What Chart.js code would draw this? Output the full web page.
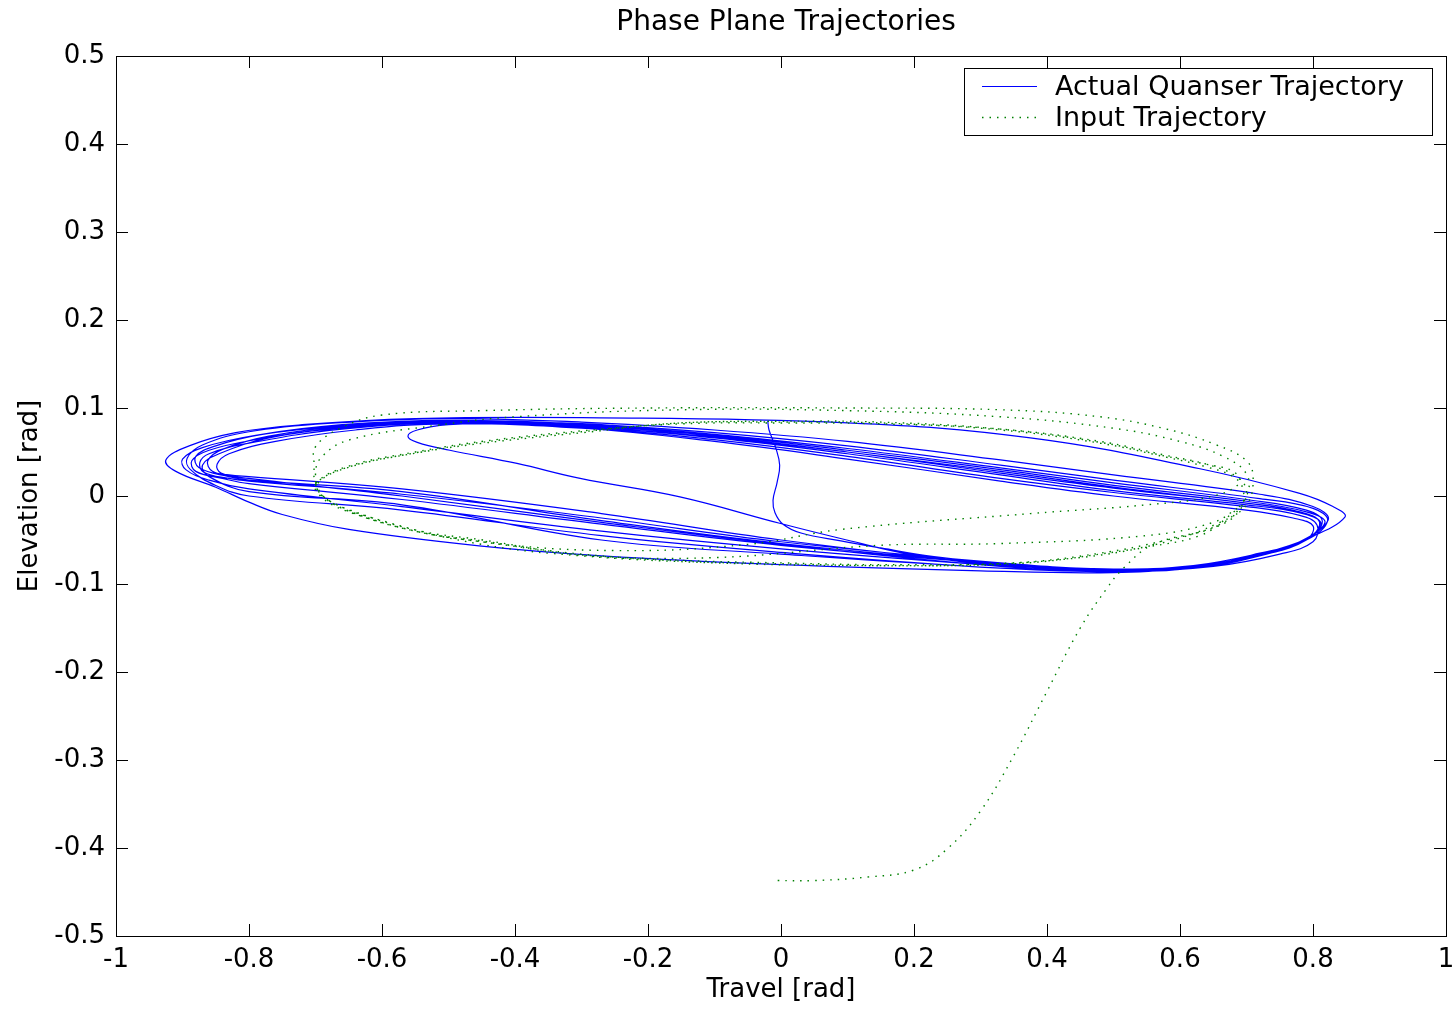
<!DOCTYPE html>
<html>
<head>
<meta charset="utf-8">
<title>Phase Plane Trajectories</title>
<script src="https://cdn.jsdelivr.net/npm/chart.js@4/dist/chart.umd.min.js"></script>
<style>
  html, body { margin: 0; padding: 0; background: #fff; }
  canvas { display: block; }
</style>
</head>
<body>
<canvas id="phase" width="1454" height="1010"></canvas>
<script>
// tick values
const xTicks = [-1, -0.8, -0.6, -0.4, -0.2, 0, 0.2, 0.4, 0.6, 0.8, 1];
const yTicks = [-0.5, -0.4, -0.3, -0.2, -0.1, 0, 0.1, 0.2, 0.3, 0.4, 0.5];

// actual trajectory, [travel, elevation]
const blueStart = [[-0.02,0.086],[-0.018,0.075],[-0.008,0.055],[-0.002,0.035],[-0.006,0.015],[-0.012,-0.005],[-0.009,-0.019],[0.003,-0.032],[0.03,-0.042],[0.09,-0.051],[0.15,-0.059],[0.23,-0.069],[0.35,-0.078],[0.5,-0.083],[0.62,-0.079],[0.72,-0.065],[0.79,-0.05]];
const blueLoop1 = [[0.822,-0.028],[0.8,-0.014],[0.72,-0.003],[0.5,0.018],[0.33,0.035],[0.1,0.057],[-0.1,0.072],[-0.3,0.082],[-0.5,0.086],[-0.66,0.081],[-0.79,0.069],[-0.87,0.055],[-0.9,0.042],[-0.895,0.03],[-0.86,0.018],[-0.8,0.008],[-0.57,-0.012],[-0.27,-0.04],[0.0,-0.06],[0.33,-0.079],[0.5,-0.084],[0.63,-0.08],[0.73,-0.066],[0.79,-0.05]];
const blueLoop2 = [[0.812,-0.031],[0.785,-0.02],[0.7,-0.01],[0.5,0.006],[0.33,0.024],[0.1,0.048],[-0.1,0.066],[-0.3,0.079],[-0.5,0.084],[-0.66,0.078],[-0.79,0.064],[-0.86,0.052],[-0.886,0.04],[-0.88,0.028],[-0.84,0.02],[-0.8,0.014],[-0.57,-0.004],[-0.27,-0.032],[0.0,-0.056],[0.33,-0.077],[0.5,-0.083],[0.63,-0.079],[0.73,-0.064],[0.79,-0.049]];
const blueLoop3 = [[0.848,-0.024],[0.83,-0.012],[0.78,0.003],[0.63,0.031],[0.375,0.066],[0.1,0.083],[-0.3,0.089],[-0.55,0.088],[-0.72,0.081],[-0.82,0.072],[-0.89,0.057],[-0.925,0.041],[-0.91,0.028],[-0.85,0.01],[-0.8,-0.007],[-0.75,-0.021],[-0.65,-0.038],[-0.45,-0.057],[-0.27,-0.068],[0.0,-0.078],[0.3,-0.085],[0.5,-0.087],[0.65,-0.08],[0.75,-0.066],[0.8,-0.052]];
const blueLoop4 = [[0.806,-0.033],[0.78,-0.022],[0.7,-0.012],[0.5,0.004],[0.33,0.02],[0.1,0.045],[-0.1,0.064],[-0.3,0.078],[-0.5,0.083],[-0.66,0.076],[-0.8,0.06],[-0.86,0.048],[-0.874,0.038],[-0.868,0.027],[-0.83,0.02],[-0.8,0.017],[-0.57,0.002],[-0.27,-0.025],[0.0,-0.052],[0.33,-0.076],[0.5,-0.083],[0.63,-0.079],[0.72,-0.066],[0.78,-0.052]];
const blueLoop5 = [[0.818,-0.03],[0.79,-0.018],[0.7,-0.006],[0.5,0.012],[0.33,0.03],[0.1,0.052],[-0.1,0.069],[-0.3,0.08],[-0.5,0.085],[-0.65,0.08],[-0.77,0.068],[-0.84,0.053],[-0.862,0.04],[-0.855,0.028],[-0.83,0.024],[-0.8,0.022],[-0.57,0.008],[-0.27,-0.02],[0.0,-0.05],[0.33,-0.078],[0.5,-0.085],[0.63,-0.08],[0.73,-0.066],[0.79,-0.05]];
const blueLoop6 = [[0.8,-0.034],[0.77,-0.025],[0.7,-0.016],[0.5,0.0],[0.33,0.017],[0.1,0.042],[-0.1,0.062],[-0.3,0.077],[-0.5,0.082],[-0.64,0.075],[-0.76,0.062],[-0.83,0.048],[-0.848,0.036],[-0.842,0.026],[-0.8,0.02],[-0.57,0.0],[-0.27,-0.03],[0.0,-0.055],[0.33,-0.08],[0.5,-0.086],[0.63,-0.081],[0.72,-0.067],[0.78,-0.052]];
const blueLoop7 = [[0.823,-0.027],[0.8,-0.012],[0.72,0.002],[0.5,0.024],[0.33,0.041],[0.1,0.062],[-0.1,0.075],[-0.3,0.084],[-0.5,0.088],[-0.67,0.083],[-0.8,0.073],[-0.87,0.058],[-0.893,0.043],[-0.888,0.03],[-0.85,0.012],[-0.8,0.0],[-0.57,-0.016],[-0.27,-0.045],[0.0,-0.064],[0.33,-0.082],[0.5,-0.085],[0.63,-0.08],[0.73,-0.065],[0.79,-0.05]];
const blueLoop8 = [[0.814,-0.029],[0.79,-0.016],[0.7,-0.004],[0.5,0.015],[0.33,0.032],[0.1,0.054],[-0.1,0.07],[-0.3,0.081],[-0.5,0.086],[-0.66,0.08],[-0.78,0.07],[-0.85,0.057],[-0.88,0.045],[-0.875,0.032],[-0.83,0.022],[-0.8,0.018],[-0.57,0.005],[-0.27,-0.028],[0.0,-0.054],[0.33,-0.077],[0.5,-0.084],[0.63,-0.08],[0.73,-0.065],[0.79,-0.05]];
const blueLoop9 = [[0.81,-0.03],[0.785,-0.019],[0.7,-0.008],[0.5,0.009],[0.33,0.026],[0.1,0.05],[-0.1,0.067],[-0.3,0.079],[-0.5,0.084],[-0.65,0.078],[-0.77,0.066],[-0.845,0.048],[-0.87,0.035],[-0.86,0.022],[-0.8,0.005],[-0.57,-0.01],[-0.27,-0.05],[0.0,-0.066],[0.33,-0.082],[0.5,-0.086],[0.63,-0.081],[0.73,-0.066],[0.79,-0.05]];
const blueLast = [[0.81,-0.03],[0.78,-0.018],[0.7,-0.008],[0.5,0.01],[0.33,0.028],[0.1,0.05],[-0.1,0.068],[-0.27,0.081],[-0.4,0.084],[-0.5,0.081],[-0.547,0.075],[-0.561,0.068],[-0.547,0.061],[-0.498,0.052],[-0.397,0.037],[-0.302,0.02],[-0.152,-0.001],[-0.002,-0.031],[0.099,-0.05],[0.2,-0.067],[0.33,-0.079],[0.5,-0.084]];

// input trajectory
const greenTail = [[-0.005,-0.437],[0.05,-0.437],[0.13,-0.433],[0.2,-0.425],[0.25,-0.401],[0.3,-0.358],[0.35,-0.295],[0.4,-0.222],[0.45,-0.15],[0.49,-0.105],[0.515,-0.082]];
const greenLoop1 = [[0.56,-0.055],[0.655,-0.035],[0.69,-0.016],[0.695,0.007],[0.68,0.022],[0.64,0.033],[0.58,0.044],[0.48,0.06],[0.33,0.075],[0.15,0.083],[0.0,0.084],[-0.152,0.083],[-0.298,0.072],[-0.448,0.06],[-0.547,0.049],[-0.648,0.033],[-0.698,0.015],[-0.689,0.0],[-0.648,-0.016],[-0.547,-0.039],[-0.448,-0.05],[-0.302,-0.067],[-0.152,-0.073],[0.0,-0.076],[0.149,-0.078],[0.349,-0.076],[0.48,-0.065],[0.58,-0.05]];
const greenLoop2 = [[0.655,-0.034],[0.69,-0.014],[0.7,0.006],[0.685,0.022],[0.645,0.035],[0.58,0.046],[0.48,0.062],[0.33,0.076],[0.15,0.082],[0.0,0.083],[-0.15,0.082],[-0.3,0.074],[-0.45,0.062],[-0.55,0.05],[-0.65,0.034],[-0.7,0.014],[-0.69,-0.002],[-0.65,-0.018],[-0.55,-0.04],[-0.45,-0.052],[-0.3,-0.066],[-0.15,-0.074],[0.0,-0.077],[0.15,-0.079],[0.35,-0.077],[0.48,-0.066],[0.58,-0.052]];
const greenOuter1 = [[0.66,-0.03],[0.7,-0.01],[0.71,0.02],[0.7,0.04],[0.655,0.058],[0.58,0.076],[0.48,0.09],[0.33,0.098],[0.1,0.1],[-0.2,0.1],[-0.45,0.097],[-0.6,0.092],[-0.66,0.078],[-0.7,0.056],[-0.702,0.035],[-0.7,0.015],[-0.68,-0.005],[-0.6,-0.028],[-0.45,-0.055],[-0.3,-0.068],[-0.1,-0.076],[0.1,-0.079],[0.3,-0.078],[0.45,-0.07],[0.55,-0.058],[0.63,-0.045]];
const greenOuter2 = [[0.67,-0.025],[0.7,0.0],[0.7,0.025],[0.665,0.045],[0.6,0.062],[0.5,0.077],[0.33,0.09],[0.1,0.097],[-0.15,0.098],[-0.4,0.09],[-0.52,0.08],[-0.648,0.064],[-0.69,0.045],[-0.7,0.025],[-0.69,0.0],[-0.6,-0.03],[-0.45,-0.052],[-0.25,-0.062],[-0.05,-0.055],[0.09,-0.038],[0.375,-0.02],[0.55,-0.01],[0.65,0.0],[0.69,0.015]];
const greenLoop3 = [[0.68,0.028],[0.64,0.036],[0.58,0.045],[0.48,0.061],[0.33,0.076],[0.15,0.084],[0.0,0.085],[-0.15,0.083],[-0.3,0.073],[-0.45,0.061],[-0.55,0.049],[-0.65,0.033],[-0.697,0.014],[-0.688,-0.001],[-0.65,-0.017],[-0.55,-0.04],[-0.45,-0.051],[-0.3,-0.067],[-0.1,-0.07],[0.15,-0.056],[0.33,-0.054],[0.55,-0.045],[0.65,-0.03],[0.69,-0.012]];

const bluePath = [].concat(blueStart, blueLoop1, blueLoop2, blueLoop3, blueLoop4, blueLoop5, blueLoop6, blueLoop7, blueLoop8, blueLoop9, blueLast);
const greenPath = [].concat(greenTail, greenLoop1, greenLoop2, greenOuter1, greenOuter2, greenLoop3);

const toPts = arr => arr.map(p => ({x: p[0], y: p[1]}));
const fmt = v => String(Math.round(v * 10) / 10);
const FONT = '"DejaVu Sans", sans-serif';

Chart.defaults.font.family = FONT;
Chart.defaults.color = '#000';

// box, inward ticks, title and legend, drawn the MATLAB way
const frame = {
  id: 'frame',
  afterDraw(chart) {
    const {ctx, chartArea: a, scales: {x, y}} = chart;
    ctx.save();
    ctx.strokeStyle = '#000';
    ctx.lineWidth = 1;
    ctx.strokeRect(Math.round(a.left) + 0.5, Math.round(a.top) + 0.5, Math.round(a.right - a.left), Math.round(a.bottom - a.top));
    ctx.beginPath();
    xTicks.forEach(v => {
      const px = Math.round(x.getPixelForValue(v)) + 0.5;
      ctx.moveTo(px, a.bottom); ctx.lineTo(px, a.bottom - 12);
      ctx.moveTo(px, a.top); ctx.lineTo(px, a.top + 12);
    });
    yTicks.forEach(v => {
      const py = Math.round(y.getPixelForValue(v)) + 0.5;
      ctx.moveTo(a.left, py); ctx.lineTo(a.left + 12, py);
      ctx.moveTo(a.right, py); ctx.lineTo(a.right - 12, py);
    });
    ctx.stroke();

    // title
    ctx.fillStyle = '#000';
    ctx.font = '28px ' + FONT;
    ctx.textAlign = 'center';
    ctx.textBaseline = 'middle';
    ctx.fillText('Phase Plane Trajectories', 786, 23);

    // legend
    const ds = chart.data.datasets;
    ctx.fillStyle = '#fff';
    ctx.fillRect(964, 68, 468, 67);
    ctx.strokeRect(964.5, 68.5, 468, 67);
    ds.forEach((d, i) => {
      const ly = 86.5 + i * 31;
      ctx.beginPath();
      ctx.strokeStyle = d.borderColor;
      ctx.lineWidth = d.borderWidth;
      ctx.setLineDash(d.borderDash || []);
      ctx.moveTo(982, ly); ctx.lineTo(1037, ly);
      ctx.stroke();
      ctx.setLineDash([]);
      ctx.fillStyle = '#000';
      ctx.textAlign = 'left';
      ctx.font = '27px ' + FONT;
      ctx.fillText(d.label, 1055, ly + 1);
    });
    ctx.restore();
  }
};

new Chart(document.getElementById('phase'), {
  type: 'scatter',
  data: {
    datasets: [
      {label: 'Actual Quanser Trajectory', data: toPts(bluePath), showLine: true, borderColor: '#0000ff', borderWidth: 1.2, pointRadius: 0, tension: 0.4, order: 1},
      {label: 'Input Trajectory', data: toPts(greenPath), showLine: true, borderColor: '#008000', borderWidth: 1.4, borderDash: [1.5, 6], pointRadius: 0, tension: 0.4, order: 0}
    ]
  },
  options: {
    responsive: false,
    animation: false,
    events: [],
    layout: {padding: {top: 56, right: 8, left: 0, bottom: 0}},
    plugins: {legend: {display: false}, tooltip: {enabled: false}, title: {display: false}},
    scales: {
      x: {
        type: 'linear', min: -1, max: 1,
        afterBuildTicks: s => { s.ticks = xTicks.map(v => ({value: v})); },
        afterFit: s => { s.height = 74; s.paddingLeft = 0; s.paddingRight = 0; },
        grid: {display: false, drawTicks: false},
        border: {display: false},
        ticks: {font: {size: 26}, padding: 9, maxRotation: 0, autoSkip: false, callback: fmt},
        title: {display: true, text: 'Travel [rad]', font: {size: 26}, padding: {top: 0, bottom: 4}}
      },
      y: {
        type: 'linear', min: -0.5, max: 0.5,
        afterBuildTicks: s => { s.ticks = yTicks.map(v => ({value: v})); },
        afterFit: s => { s.width = 116; s.paddingTop = 0; s.paddingBottom = 0; },
        grid: {display: false, drawTicks: false},
        border: {display: false},
        ticks: {font: {size: 26}, padding: 11, autoSkip: false, callback: fmt},
        title: {display: true, text: 'Elevation [rad]', font: {size: 26}, padding: {top: 15, bottom: 0}}
      }
    }
  },
  plugins: [frame]
});
</script>
</body>
</html>
